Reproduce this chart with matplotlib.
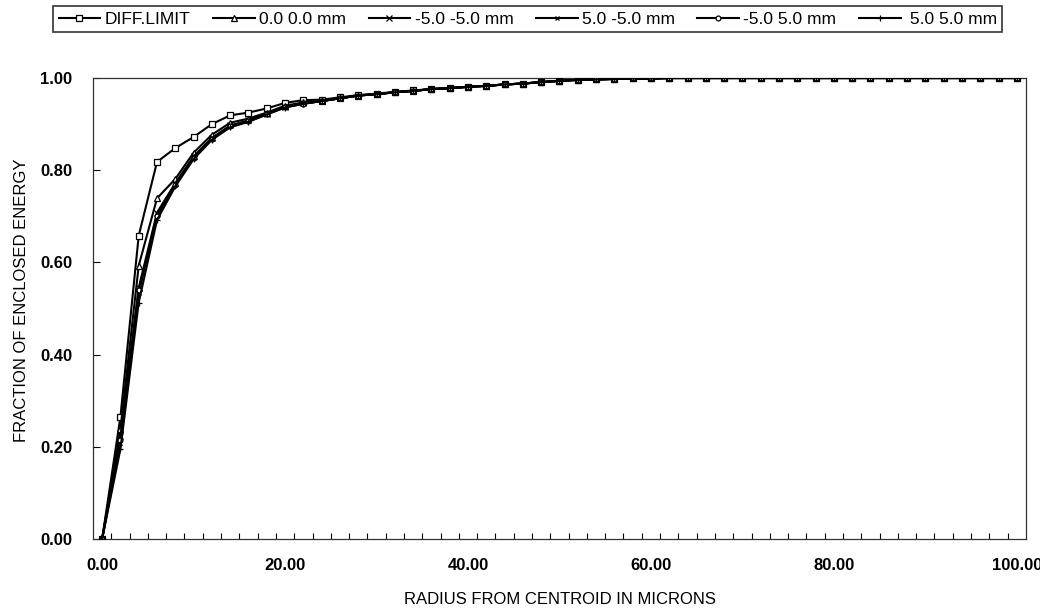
import matplotlib
matplotlib.use("Agg")
import matplotlib.pyplot as plt
import numpy as np

# ---- data ----
radius = list(range(0, 101, 2))

# shared tail from r=24 onward (all curves merge)
tail = [0.950, 0.956, 0.962, 0.965, 0.969, 0.972, 0.976, 0.978, 0.981,
        0.983, 0.986, 0.988, 0.991, 0.994, 0.996, 0.997, 0.998, 0.999,
        0.999, 1.000] + [1.000] * 19

diff_limit = [0.0, 0.265, 0.658, 0.818, 0.848, 0.872, 0.900, 0.919, 0.925,
              0.934, 0.946, 0.952] + [0.953, 0.958, 0.963, 0.966, 0.970,
              0.973, 0.976, 0.978, 0.981, 0.983, 0.986, 0.988, 0.991, 0.994,
              0.996, 0.997, 0.998, 0.999, 0.999, 1.000] + [1.000] * 19
f_00_00 = [0.0, 0.238, 0.593, 0.739, 0.781, 0.838, 0.877, 0.903, 0.912,
           0.925, 0.940, 0.947] + tail
f_m5_m5 = [0.0, 0.223, 0.545, 0.708, 0.772, 0.830, 0.870, 0.897, 0.908,
           0.923, 0.938, 0.945] + tail
f_p5_m5 = [0.0, 0.208, 0.533, 0.704, 0.770, 0.828, 0.869, 0.896, 0.907,
           0.922, 0.937, 0.945] + tail
f_m5_p5 = [0.0, 0.215, 0.540, 0.700, 0.768, 0.826, 0.868, 0.895, 0.906,
           0.921, 0.937, 0.944] + tail
f_p5_p5 = [0.0, 0.195, 0.513, 0.692, 0.765, 0.824, 0.866, 0.893, 0.905,
           0.921, 0.936, 0.944] + tail

series = [
    ("DIFF.LIMIT", diff_limit, "s", 4.5),
    ("0.0 0.0 mm", f_00_00, "^", 4.5),
    ("-5.0 -5.0 mm", f_m5_m5, "x", 4),
    ("5.0 -5.0 mm", f_p5_m5, "x", 3),
    ("-5.0 5.0 mm", f_m5_p5, "o", 3.5),
    (" 5.0 5.0 mm", f_p5_p5, "+", 4.5),
]

x_labels = ["0.00", "20.00", "40.00", "60.00", "80.00", "100.00"]
y_labels = ["0.00", "0.20", "0.40", "0.60", "0.80", "1.00"]

# ---- figure ----
fig = plt.figure(figsize=(10.4, 6.1), dpi=100)
ax = fig.add_axes([0.0894, 0.1164, 0.8971, 0.7557])

handles = []
for i, (lab, vals, mk, ms) in enumerate(series):
    h, = ax.plot(radius, vals, color="black", linewidth=1.5, marker=mk,
                 markersize=ms, markerfacecolor="white",
                 markeredgecolor="black", markeredgewidth=0.9,
                 label=lab, zorder=3 + i)
    handles.append(h)

ax.set_xlim(-1, 101)
ax.set_ylim(0, 1.0)

ax.set_xticks([0, 20, 40, 60, 80, 100])
ax.set_xticklabels(x_labels, fontsize=12, fontweight="bold",
                   family="Liberation Sans")
ax.set_xticks(np.arange(1, 100, 2), minor=True)
ax.tick_params(axis="x", which="major", length=0, pad=14)
ax.tick_params(axis="x", which="minor", direction="in", length=4, width=0.8)

ax.set_yticks([0, 0.2, 0.4, 0.6, 0.8, 1.0])
ax.set_yticklabels(y_labels, fontsize=12, fontweight="bold",
                   family="Liberation Sans")
ax.tick_params(axis="y", direction="in", length=5, width=0.8, pad=15)

for sp in ax.spines.values():
    sp.set_linewidth(0.9)
    sp.set_color("#333333")

ax.set_xlabel("RADIUS FROM CENTROID IN MICRONS", fontsize=12,
              family="Liberation Sans", va="center")
ax.xaxis.set_label_coords(0.5, -0.132)
ax.set_ylabel("FRACTION OF ENCLOSED ENERGY", fontsize=12,
              family="Liberation Sans", va="center")
ax.yaxis.set_label_coords(-0.0761, 0.518)

leg = fig.legend(handles=handles, loc="upper left", ncol=6,
                 bbox_to_anchor=(0.043, 1.004), frameon=True, fancybox=False,
                 edgecolor="black", handlelength=2.4,
                 handletextpad=0.25, columnspacing=1.3, borderpad=0.3,
                 prop={"family": "Liberation Sans", "size": 12.5})
leg.get_frame().set_linewidth(1.2)

fig.savefig("out.png", dpi=100)
